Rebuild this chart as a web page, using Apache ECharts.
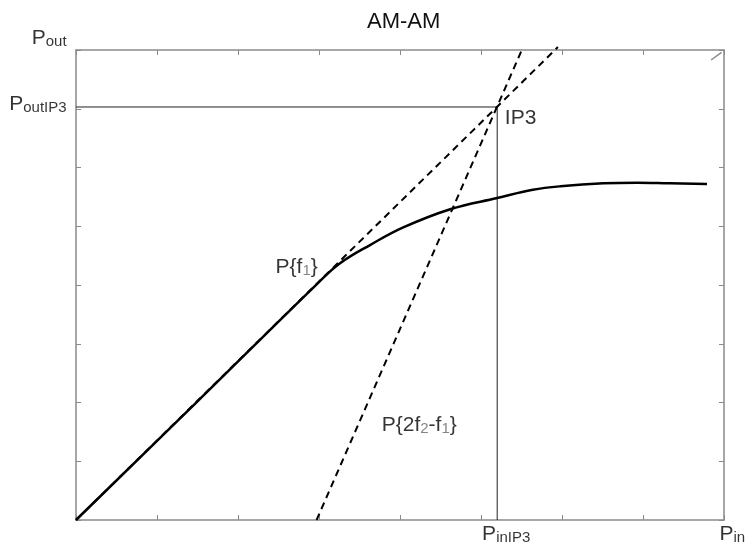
<!DOCTYPE html>
<html>
<head>
<meta charset="utf-8">
<script src="https://cdn.jsdelivr.net/npm/echarts@6/dist/echarts.min.js"></script>
<style>html,body{margin:0;padding:0;background:#fff;}#c{width:745px;height:548px;}</style>
</head>
<body>
<div id="c"></div>
<script>
// ---- data ----
var curveX = [0, 1.5, 3.0, 3.26, 3.63, 4.04, 4.62, 5.20, 5.64, 5.98, 6.51, 6.93, 7.33, 7.79];
var curveY = [0, 2.02, 4.05, 4.37, 4.68, 4.98, 5.29, 5.48, 5.62, 5.68, 5.73, 5.74, 5.73, 5.72];
var fundX = [0, 5.95];
var fundY = [0, 8.05];
var im3X = [2.97, 5.52];
var im3Y = [0, 8.05];
var ip3 = [5.2, 7.03];
var cornerX = [7.84, 7.97];
var cornerY = [7.83, 7.96];
var labelText = ['{p|P}{s|out}', '{p|P}{s|outIP3}', '{p|P}{s|inIP3}', '{p|P}{s|in}', '{p|IP3}', '{p|P{f}{g|1}}', '{p|P{2f}{g|2}{p|-f}{g|1}}'];
var labelX = [-0.11, -0.11, 5.02, 7.95, 5.30, 2.47, 3.78];
var labelY = [8.19, 7.07, -0.25, -0.25, 6.83, 4.29, 1.61];
var labelAlign = ['right', 'right', 'left', 'left', 'left', 'left', 'left'];
var xTicks = [0, 8, 1];
var yTicks = [0, 8, 1];

function zip(xs, ys) { return xs.map(function (x, i) { return [x, ys[i]]; }); }

var FONT = '"Liberation Sans", Arial, sans-serif';
var axisCommon = function (pos, t) {
  return {
    type: 'value', position: pos, min: t[0], max: t[1], interval: t[2],
    axisLine: { show: true, onZero: false, lineStyle: { color: '#8a8a8a', width: 1.5 } },
    axisTick: { show: true, inside: true, length: 5, lineStyle: { color: '#8a8a8a', width: 1 } },
    axisLabel: { show: false }, splitLine: { show: false }
  };
};

var chart = echarts.init(document.getElementById('c'));
chart.setOption({
  animation: false,
  backgroundColor: '#fff',
  title: { text: 'AM-AM', left: 362, top: 6, textStyle: { fontSize: 22, fontWeight: 'normal', color: '#111', fontFamily: FONT } },
  grid: { left: 76, top: 50, right: 21, bottom: 28 },
  xAxis: [axisCommon('bottom', xTicks), axisCommon('top', xTicks)],
  yAxis: [axisCommon('left', yTicks), axisCommon('right', yTicks)],
  series: [
    { type: 'line', data: zip(curveX, curveY), smooth: 0.4, showSymbol: false, lineStyle: { color: '#000', width: 2.5 }, z: 3 },
    { type: 'line', data: zip(fundX, fundY), showSymbol: false, clip: false, lineStyle: { color: '#000', width: 2, type: [7, 5] }, z: 2 },
    { type: 'line', data: zip(im3X, im3Y), showSymbol: false, clip: false, lineStyle: { color: '#000', width: 2, type: [7, 5] }, z: 2 },
    { type: 'line', data: [[0, ip3[1]], [ip3[0], ip3[1]], [ip3[0], 0]], showSymbol: false, lineStyle: { color: '#222', width: 1 }, z: 1 },
    { type: 'line', data: zip(cornerX, cornerY), showSymbol: false, clip: false, lineStyle: { color: '#8a8a8a', width: 1.5 }, z: 1 },
    {
      type: 'scatter', clip: false, symbolSize: 1, itemStyle: { color: 'rgba(0,0,0,0)' }, z: 5,
      data: labelText.map(function (t, i) {
        return { value: [labelX[i], labelY[i]], label: { formatter: t, align: labelAlign[i] } };
      }),
      label: {
        show: true, position: [0, 0], verticalAlign: 'middle', fontSize: 21, color: '#000', fontFamily: FONT,
        rich: {
          p: { fontSize: 21, lineHeight: 22, color: '#000', fontFamily: FONT },
          s: { fontSize: 15, lineHeight: 16, verticalAlign: 'bottom', color: '#000', fontFamily: FONT },
          g: { fontSize: 15, lineHeight: 16, verticalAlign: 'bottom', color: '#666', fontFamily: FONT }
        }
      }
    }
  ]
});
</script>
</body>
</html>
